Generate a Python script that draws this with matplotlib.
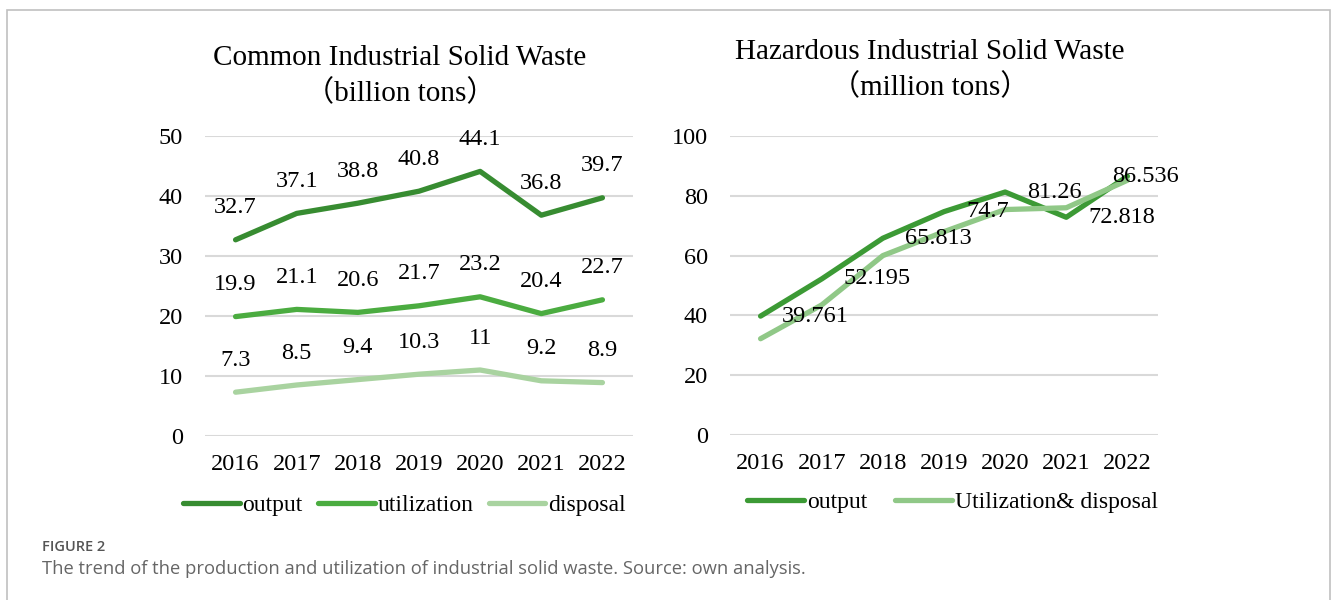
import numpy as np
import matplotlib.pyplot as plt
from matplotlib.patches import Rectangle

years = ['2016', '2017', '2018', '2019', '2020', '2021', '2022']

# common industrial solid waste (billion tons)
common_output = [32.7, 37.1, 38.8, 40.8, 44.1, 36.8, 39.7]
common_util = [19.9, 21.1, 20.6, 21.7, 23.2, 20.4, 22.7]
common_disp = [7.3, 8.5, 9.4, 10.3, 11, 9.2, 8.9]

# hazardous industrial solid waste (million tons)
haz_output = [39.761, 52.195, 65.813, 74.7, 81.26, 72.818, 86.536]
haz_util_disp = [32.2, 43.5, 60.0, 68.0, 75.4, 76.0, 85.2]
haz_labels = ['39.761', '52.195', '65.813', '74.7', '81.26', '72.818', '86.536']

serif = ['Liberation Serif', 'Noto Sans CJK SC']
plt.rcParams['font.family'] = serif

fig = plt.figure(figsize=(13.31, 6.0), dpi=100)

# light frame around the figure
fig.add_artist(Rectangle((7/1331, -0.05), (1330-7)/1331, 1.05 - 10/600, transform=fig.transFigure,
                         fill=False, edgecolor='#c0c0c0', linewidth=1.2))

x = np.arange(len(years))
grid_c = '#d9d9d9'
lw = 3.8
fs = 17.5


def style_axes(ax, ylim, step):
    ax.set_xlim(-0.5, len(years) - 0.5)
    ax.set_ylim(ylim)
    ax.set_yticks(np.arange(0, ylim[1] + 0.1, step))
    ax.set_xticks(x)
    ax.set_xticklabels(years)
    for s in ax.spines.values():
        s.set_visible(False)
    ax.tick_params(length=0, labelsize=fs, pad=16)
    ax.tick_params(axis='x', pad=13)
    ax.grid(axis='y', color=grid_c, linewidth=1.5)
    ax.set_axisbelow(True)


# ---- left chart
ax1 = fig.add_axes([205/1331, 1-436/600, 428/1331, 300/600])
style_axes(ax1, (0, 50), 10)
ax1.plot(x, common_output, color='#378c31', lw=lw, solid_capstyle='round', label='output')
ax1.plot(x, common_util, color='#4bac40', lw=lw, solid_capstyle='round', label='utilization')
ax1.plot(x, common_disp, color='#a9d3a0', lw=lw, solid_capstyle='round', label='disposal')
for series in (common_output, common_util, common_disp):
    for xi, v in zip(x, series):
        ax1.annotate(f'{v:g}', (xi, v), xytext=(0, 23), textcoords='offset points',
                     ha='center', va='center', fontsize=fs)
fig.text(400/1331, 1-58/600, 'Common Industrial Solid Waste', ha='center', va='center', fontsize=21)
fig.text(400/1331, 1-93/600, '（billion tons）', ha='center', va='center', fontsize=21)
ax1.legend(loc='center', bbox_to_anchor=(0.466, -0.23), ncol=3, frameon=False, fontsize=17,
           handlelength=2.4, handletextpad=0.12, columnspacing=0.65)

# ---- right chart
ax2 = fig.add_axes([730/1331, 1-435/600, 428/1331, 299/600])
style_axes(ax2, (0, 100), 20)
ax2.plot(x, haz_output, color='#3c9a35', lw=lw, solid_capstyle='round', label='output')
ax2.plot(x, haz_util_disp, color='#90c887', lw=lw, solid_capstyle='round', label='Utilization& disposal')
label_dx = [0.89, 0.90, 0.90, 0.71, 0.80, 0.91, 0.29]
for xi, v, t, dx in zip(x, haz_output, haz_labels, label_dx):
    ax2.text(xi + dx, v, t, ha='center', va='center', fontsize=fs)
fig.text(930/1331, 1-52/600, 'Hazardous Industrial Solid Waste', ha='center', va='center', fontsize=21)
fig.text(930/1331, 1-87/600, '（million tons）', ha='center', va='center', fontsize=21)
ax2.legend(loc='center', bbox_to_anchor=(0.52, -0.225), ncol=2, frameon=False, fontsize=17,
           handlelength=2.4, handletextpad=0.12, columnspacing=1.2)

# caption
fig.text(42/1331, 1-547/600, 'FIGURE 2', ha='left', va='center', fontsize=10.5,
         color='#555555', family='Open Sans', weight='semibold')
fig.text(42/1331, 1-569/600, 'The trend of the production and utilization of industrial solid waste. Source: own analysis.',
         ha='left', va='center', fontsize=13.2, color='#666666', family='Open Sans')

fig.savefig('out.png', dpi=100)
